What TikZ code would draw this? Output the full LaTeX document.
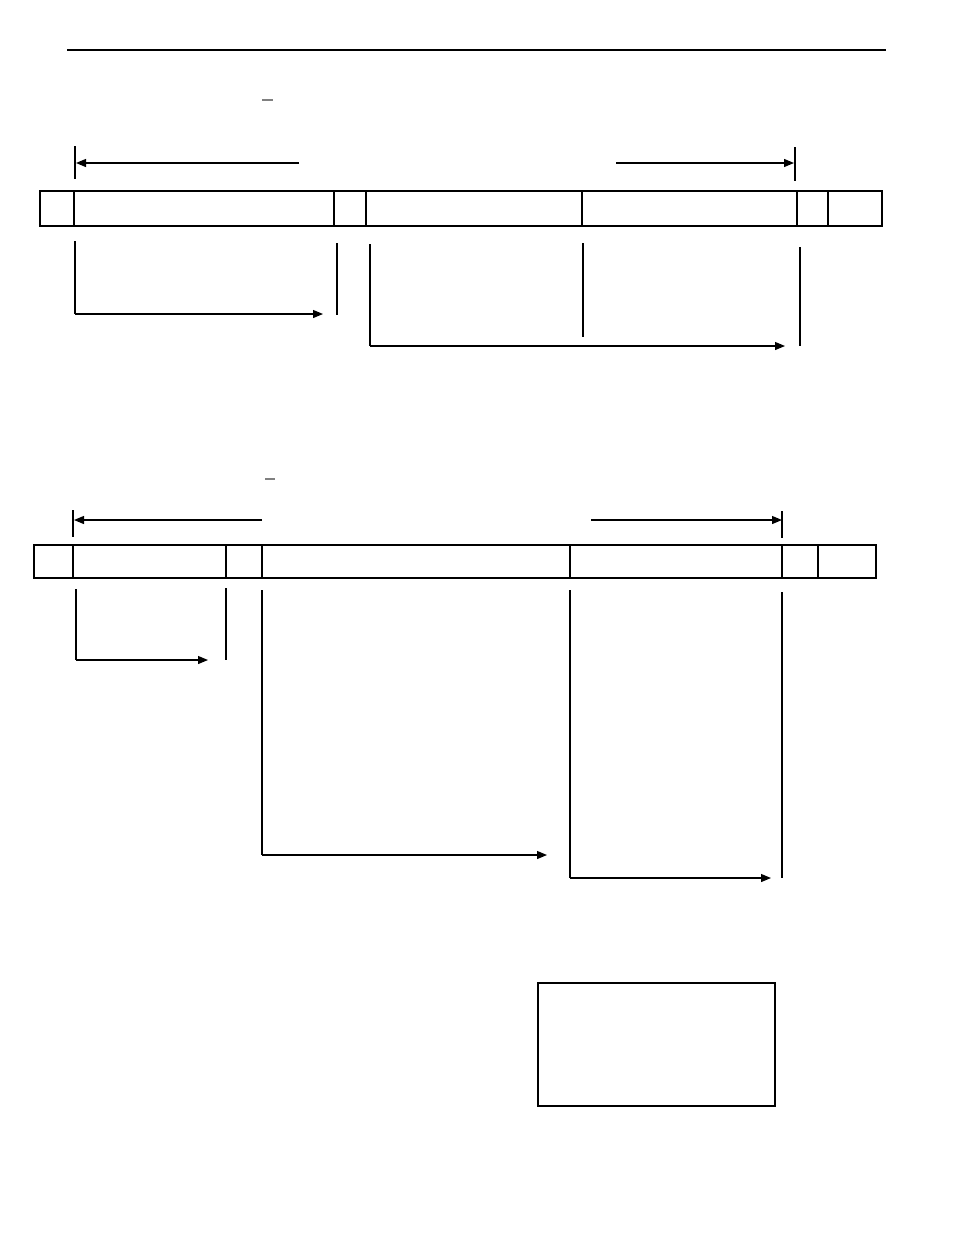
\documentclass[tikz,border=0pt]{standalone}
\usetikzlibrary{arrows.meta}
\tikzset{
  thinline/.style={line width=0.9pt},
  boldline/.style={line width=1.8pt},
  dimarrow/.style={line width=0.9pt, -{Triangle[length=7.5pt,width=6pt]}},
}
\begin{document}
\begin{tikzpicture}[x=0.75pt, y=-0.75pt]
    \useasboundingbox (0,0) rectangle (954,1235);

    % header rule
    \draw[line width=1.5pt] (67,50) -- (886,50);

    % ---------- upper frame ----------
    \draw[gray, line width=0.8pt] (262,100) -- (273,100);

    \coordinate (uLtick) at (75,146);
    \coordinate (uRtick) at (795,147);
    \draw[thinline] (uLtick) -- ++(0,33);
    \draw[thinline] (uRtick) -- ++(0,34);
    \draw[dimarrow] (299,163) -- (76,163);
    \draw[dimarrow] (616,163) -- (794,163);

    \draw[thinline] (40,191) rectangle (882,226);
    \draw[boldline] (40,226) -- (882,226);
    \draw[boldline] (40,191) -- (40,226);
    \foreach \xx in {74, 334, 366, 582, 797}
        \draw[thinline] (\xx,191) -- (\xx,226);
    \draw[boldline] (828,191) -- (828,226);

    \draw[thinline] (75,241) -- (75,314);
    \draw[dimarrow] (75,314) -- (323,314);
    \draw[boldline] (337,243) -- (337,315);
    \draw[thinline] (370,244) -- (370,346);
    \draw[dimarrow] (370,346) -- (785,346);
    \draw[thinline] (583,243) -- (583,337);
    \draw[boldline] (800,247) -- (800,346);

    % ---------- lower frame ----------
    \draw[gray, line width=0.8pt] (265,479) -- (275,479);

    \coordinate (lLtick) at (73,510);
    \coordinate (lRtick) at (782,511);
    \draw[thinline] (lLtick) -- ++(0,27);
    \draw[thinline] (lRtick) -- ++(0,27);
    \draw[dimarrow] (262,520) -- (74,520);
    \draw[dimarrow] (591,520) -- (782,520);

    \draw[thinline] (34,545) rectangle (876,578);
    \foreach \xx in {73, 226, 262, 570, 782, 818}
        \draw[thinline] (\xx,545) -- (\xx,578);

    \draw[thinline] (76,589) -- (76,660);
    \draw[dimarrow] (76,660) -- (208,660);
    \draw[boldline] (226,588) -- (226,660);
    \draw[thinline] (262,590) -- (262,855);
    \draw[dimarrow] (262,855) -- (547,855);
    \draw[thinline] (570,590) -- (570,878);
    \draw[dimarrow] (570,878) -- (771,878);
    \draw[thinline] (782,592) -- (782,878);

    % legend box
    \draw[thinline] (538,983) rectangle (775,1106);
\end{tikzpicture}
\end{document}
